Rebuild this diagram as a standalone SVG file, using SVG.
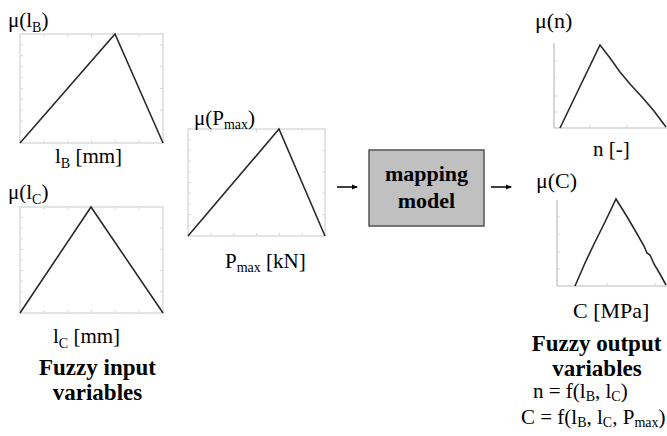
<svg xmlns="http://www.w3.org/2000/svg" width="667" height="436" viewBox="0 0 667 436" font-family="'Liberation Serif', 'DejaVu Serif', serif">
<style>
text, tspan{font-family:'Liberation Serif', 'DejaVu Serif', serif;font-size:21px;fill:#000}
text.b{font-weight:bold;font-size:23px}
text.bm{font-weight:bold;font-size:22px}
text.l{font-size:22px}
tspan.s{font-size:14px}
.frame{fill:none;stroke:#d2d2d2;stroke-width:1.2}
.tick{stroke:#d8d8d8;stroke-width:1}
.curve{fill:none;stroke:#2a2a2a;stroke-width:1.6;stroke-linejoin:miter}
.axis{fill:none;stroke:#bcbcbc;stroke-width:1.2}
.conn{stroke:#000;stroke-width:1.5;fill:none}
</style>
<defs>
<marker id="ah" markerWidth="6" markerHeight="6" refX="5" refY="3" orient="auto" markerUnits="userSpaceOnUse">
<path d="M0,0.5 L6,3 L0,5.5 Z" fill="#000"/>
</marker>
</defs>
<rect width="667" height="436" fill="#fff"/>

<g id="chart-lB">
<rect class="frame" x="20" y="34" width="143" height="109"/>
<path class="tick" d="M20,44.9h3M20,55.8h3M20,66.7h3M20,77.6h3M20,88.5h3M20,99.4h3M20,110.3h3M20,121.2h3M20,132.1h3M43.8,34v3M67.7,34v3M91.5,34v3M139.2,34v3M43.8,143v-3M67.7,143v-3M91.5,143v-3M115.3,143v-3M139.2,143v-3M163,44.9h-3M163,66.7h-3M163,88.5h-3M163,110.3h-3"/>
<polyline class="curve" points="20,143 115,34 163,143"/>
<text x="8" y="27">μ(l<tspan class="s" dy="5">B</tspan><tspan dy="-5">)</tspan></text>
<text x="55" y="163">l<tspan class="s" dy="5">B</tspan><tspan dy="-5"> [mm]</tspan></text>
</g>

<g id="chart-lC">
<rect class="frame" x="20" y="207" width="143" height="106"/>
<path class="tick" d="M20,217.6h3M20,228.2h3M20,238.8h3M20,249.4h3M20,260h3M20,270.6h3M20,281.2h3M20,291.8h3M20,302.4h3M43.8,207v3M67.7,207v3M115.3,207v3M139.2,207v3M43.8,313v-3M67.7,313v-3M91.5,313v-3M115.3,313v-3M139.2,313v-3M163,228.2h-3M163,249.4h-3M163,270.6h-3M163,291.8h-3"/>
<polyline class="curve" points="20,313 91,207 163,313"/>
<text x="8" y="199">μ(l<tspan class="s" dy="5">C</tspan><tspan dy="-5">)</tspan></text>
<text x="53" y="343">l<tspan class="s" dy="5">C</tspan><tspan dy="-5"> [mm]</tspan></text>
</g>

<g id="label-input">
<text class="b" x="97.5" y="375" text-anchor="middle">Fuzzy input</text>
<text class="b" x="97.5" y="400" text-anchor="middle">variables</text>
</g>

<g id="chart-Pmax">
<rect class="frame" x="188" y="129" width="137" height="107"/>
<path class="tick" d="M188,139.7h3M188,150.4h3M188,161.1h3M188,171.8h3M188,182.5h3M188,193.2h3M188,203.9h3M188,214.6h3M188,225.3h3M210.8,129v3M233.7,129v3M256.5,129v3M302.2,129v3M210.8,236v-3M233.7,236v-3M256.5,236v-3M279.3,236v-3M302.2,236v-3M325,150.4h-3M325,171.8h-3M325,193.2h-3M325,214.6h-3"/>
<polyline class="curve" points="188,236 279,129 325,236"/>
<text x="194" y="125">μ(P<tspan class="s" dy="4">max</tspan><tspan dy="-4">)</tspan></text>
<text x="225" y="268">P<tspan class="s" dy="4">max</tspan><tspan dy="-4"> [kN]</tspan></text>
</g>

<g id="mapping-model">
<rect x="369" y="150" width="115" height="76" fill="#c0c0c0" stroke="#555" stroke-width="1.5"/>
<text class="bm" x="426.5" y="181" text-anchor="middle">mapping</text>
<text class="bm" x="426.5" y="208" text-anchor="middle">model</text>
</g>

<g id="connectors">
<line class="conn" x1="337" y1="187" x2="357" y2="187" marker-end="url(#ah)"/>
<line class="conn" x1="491" y1="187" x2="511" y2="187" marker-end="url(#ah)"/>
</g>

<g id="chart-n">
<path class="axis" d="M554,43V128H667"/>
<path class="tick" d="M554,61h3M554,78h3M554,96h3M554,112h3M590,128v-3M627,128v-3"/>
<polyline class="curve" points="560,128 600,45 610,58 620,72 630,84 642,97 654,111 666,127"/>
<text class="l" x="535" y="28">μ(n)</text>
<text x="593" y="156">n [-]</text>
</g>

<g id="chart-C">
<path class="axis" d="M557,200V286H667"/>
<path class="tick" d="M557,217h3M557,234h3M557,252h3M557,269h3M607,286v-3M655,286v-3"/>
<polyline class="curve" points="575,286 585,263 595,242 605,222 616,199 626,215 636,232 644,246 647,253 650,255 654,264 660,274 666,285"/>
<text class="l" x="536" y="188">μ(C)</text>
<text class="l" x="573" y="318">C [MPa]</text>
</g>

<g id="label-output">
<text class="b" x="596.5" y="351" text-anchor="middle">Fuzzy output</text>
<text class="b" x="597" y="376" text-anchor="middle">variables</text>
<text x="533" y="398">n = f(l<tspan class="s" dy="3">B</tspan><tspan dy="-3">, l</tspan><tspan class="s" dy="3">C</tspan><tspan dy="-3">)</tspan></text>
<text x="521" y="424">C = f(l<tspan class="s" dy="3">B</tspan><tspan dy="-3">, l</tspan><tspan class="s" dy="3">C</tspan><tspan dy="-3">, P</tspan><tspan class="s" dy="3">max</tspan><tspan dy="-3">)</tspan></text>
</g>
</svg>
